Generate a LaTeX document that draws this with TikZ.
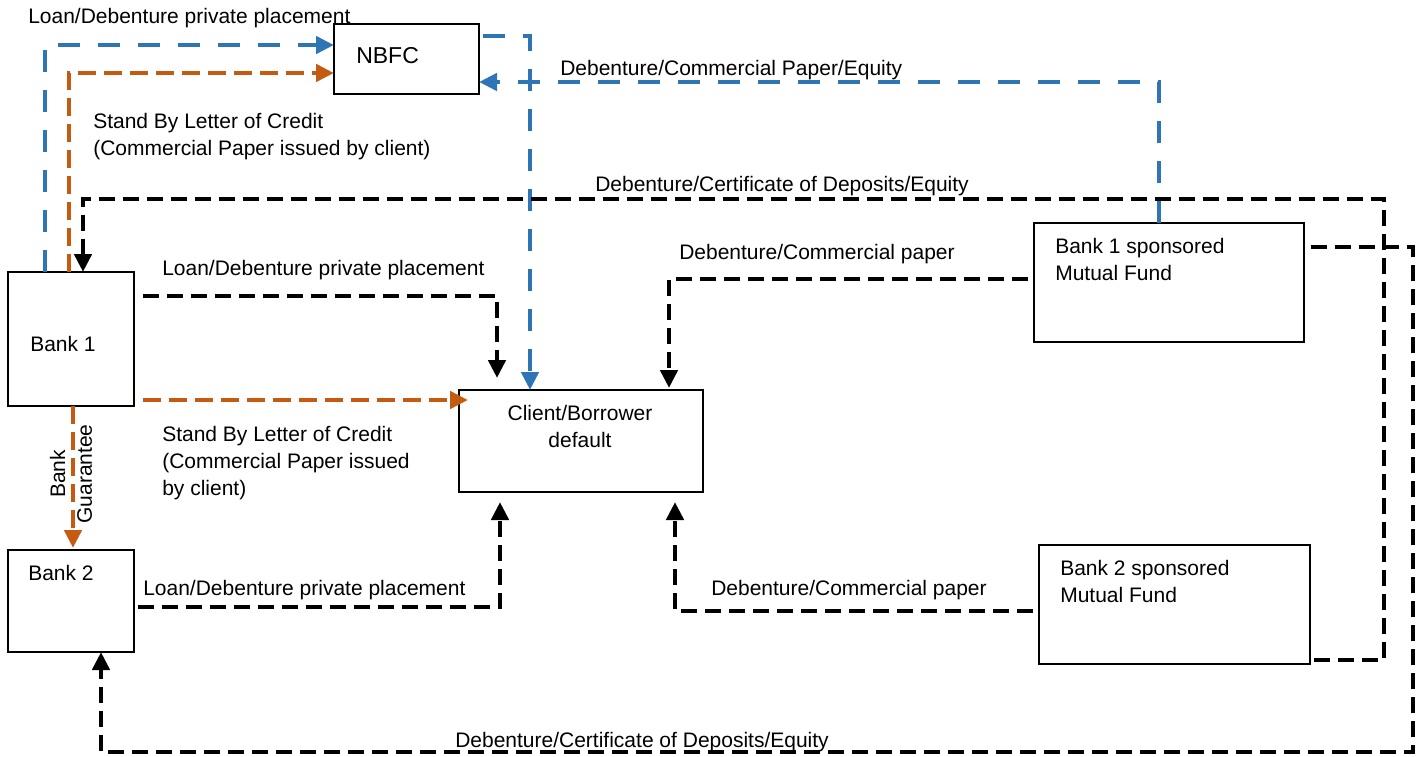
\documentclass[tikz,border=0pt]{standalone}
\usepackage{fontspec}
\setmainfont{Liberation Sans}
\usetikzlibrary{arrows.meta,calc}
\definecolor{flowblue}{RGB}{46,117,182}
\definecolor{floworange}{RGB}{197,90,17}

\begin{document}
\begin{tikzpicture}[x=0.75pt,y=-0.75pt,
  box/.style={draw,line width=1.5pt,inner sep=0pt,outer sep=0pt},
  lbl/.style={font=\fontsize{15.75}{20}\selectfont,inner sep=0pt,anchor=base west,align=left},
  tip/.style={-{Triangle[length=13.5pt,width=12.75pt]}},
  blk/.style={draw=black,line width=3.7pt,dash pattern=on 12pt off 6pt},
  blu/.style={draw=flowblue,line width=3.5pt,dash pattern=on 16.5pt off 13.5pt},
  org/.style={draw=floworange,line width=3.5pt,dash pattern=on 13.5pt off 6pt},
]
\useasboundingbox (0,0) rectangle (1418,757);

% boxes
\node[box,minimum width=108.75pt,minimum height=52.5pt] (nbfc) at (406.5,59) {};
\node[box,minimum width=94.5pt,minimum height=100.5pt] (b1) at (71,339) {};
\node[box,minimum width=94.5pt,minimum height=76.5pt] (b2) at (71,601) {};
\node[box,minimum width=183pt,minimum height=76.5pt] (cl) at (581,441) {};
\node[box,minimum width=202.5pt,minimum height=89.25pt] (mf1) at (1169,282.5) {};
\node[box,minimum width=203.25pt,minimum height=89.25pt] (mf2) at (1174.5,604.5) {};

% box texts (multi-line nodes sit on the baseline of their last line)
\node[lbl,font=\fontsize{17.25}{20}\selectfont] (nbfcT) at (356,63) {NBFC};
\node[lbl] (b1T) at (30,351) {Bank 1};
\node[lbl] (b2T) at (28,580) {Bank 2};
\node[lbl,anchor=base,align=center] (clT) at (580,447) {Client/Borrower\\default};
\node[lbl] (mf1T) at (1055,280) {Bank 1 sponsored\\Mutual Fund};
\node[lbl] (mf2T) at (1060,602) {Bank 2 sponsored\\Mutual Fund};

% blue flows
\draw[blu,tip] ($(b1.north west)+(37,0)$) |- ($(nbfc.west)+(0,-14)$);
\draw[blu,tip] ($(nbfc.north east)+(4,12)$) -| ($(cl.north west)+(71,0)$);
\draw[blu,tip] ($(mf1.north west)+(125,0)$) |- ($(nbfc.east)+(0,23)$);

% orange flows
\draw[org,tip] ($(b1.north west)+(61,0)$) |- ($(nbfc.west)+(0,14)$);
\draw[org,tip] ($(b1.south east)+(9,-6)$) -- ($(cl.north west)+(9,10)$);
\draw[org,tip] ($(b1.south west)+(65,0)$) -- ($(b2.north west)+(65,-2)$);

% black flows
\coordinate (se) at ($(mf2.south east)+(103,88)$);
\draw[blk,tip] ($(mf2.south east)+(4,-4)$) -| ($(mf1.north east)+(80,-24)$) -| ($(b1.north west)+(75,0)$);
\draw[blk,tip] ($(mf1.north east)+(7,24)$) -| (se) -| ($(b2.south west)+(93,0)$);
\draw[blk,tip] ($(b1.north east)+(9,24)$) -| ($(cl.north west)+(38,-12)$);
\draw[blk,tip] ($(b2.north east)+(4,57)$) -| ($(cl.south west)+(41,10)$);
\draw[blk,tip] ($(mf2.north west)+(-6,66)$) -| ($(cl.south west)+(216,10)$);
\draw[blk,tip] ($(mf1.north west)+(-6,56)$) -| ($(cl.north west)+(210,-2)$);

% flow labels
\node[lbl] (l1) at (28,23) {Loan/Debenture private placement};
\node[lbl] (l2) at (93,155) {Stand By Letter of Credit\\(Commercial Paper issued by client)};
\node[lbl] (l3) at (560,75) {Debenture/Commercial Paper/Equity};
\node[lbl] (l4) at (595,191) {Debenture/Certificate of Deposits/Equity};
\node[lbl] (l5) at (162,275) {Loan/Debenture private placement};
\node[lbl] (l6) at (679,259) {Debenture/Commercial paper};
\node[lbl] (l7) at (162,495) {Stand By Letter of Credit\\(Commercial Paper issued\\by client)};
\node[lbl] (l8) at (143,595) {Loan/Debenture private placement};
\node[lbl] (l9) at (711,595) {Debenture/Commercial paper};
\node[lbl] (l10) at (455,747) {Debenture/Certificate of Deposits/Equity};
\node[lbl,anchor=center,align=center,rotate=90] (l11) at (71,474) {Bank\\Guarantee};
\end{tikzpicture}
\end{document}
